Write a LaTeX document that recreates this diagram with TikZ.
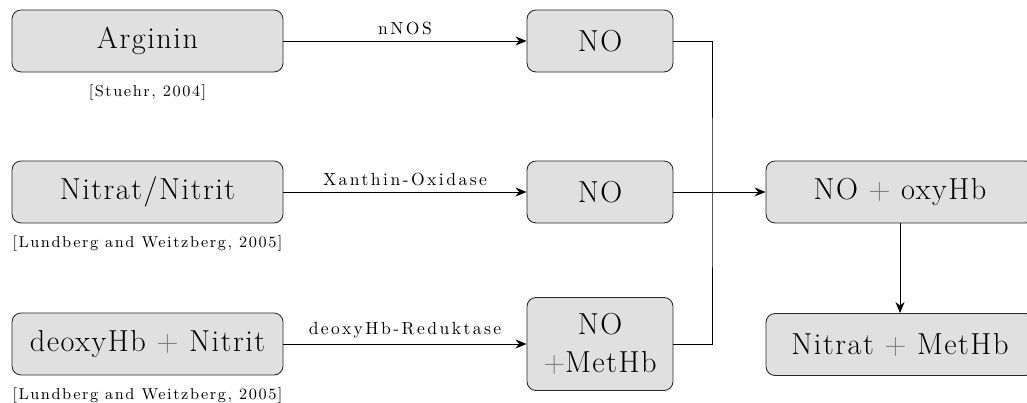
\documentclass[tikz,border=0pt]{standalone}
\usepackage{fontspec}
\setmainfont{Latin Modern Roman}
\usetikzlibrary{positioning, arrows.meta}

\newcommand{\gplus}{\textcolor{gray}{$+$}}

\begin{document}
\begin{tikzpicture}[
          box/.style={rectangle, rounded corners=1.8mm, draw=black!85, fill=black!12, font=\LARGE\addfontfeatures{LetterSpace=5}, minimum height=12.4mm},
          wide/.style={box, minimum width=54.2mm},
          small/.style={box, minimum width=29.2mm},
          cite/.style={font=\small\addfontfeatures{LetterSpace=10}},
          lbl/.style={midway, above, font=\normalsize\addfontfeatures{LetterSpace=14}},
          every path/.style={line width=0.5pt},
          >={Stealth[length=2.2mm, width=1.8mm]}
        ]

        \useasboundingbox (0,0) rectangle (20.54,-8.06);

        % left column
        \node[wide] (arg) at (2.95,-0.82) {Arginin};
        \node[wide] (nit) at (2.95,-3.84) {Nitrat/Nitrit};
        \node[wide] (deo) at (2.95,-6.88) {deoxyHb \gplus{} Nitrit};

        \node[cite, below=1.2mm of arg] {[Stuehr, 2004]};
        \node[cite, below=1.2mm of nit] {[Lundberg and Weitzberg, 2005]};
        \node[cite, below=1.2mm of deo] {[Lundberg and Weitzberg, 2005]};

        % middle column
        \node[small] (noA) at (12.0,-0.82) {NO};
        \node[small] (noB) at (12.0,-3.84) {NO};
        \node[small, minimum height=18.6mm, align=center] (noC) at (12.0,-6.88) {NO\\\gplus MetHb};

        % right column
        \node[wide, minimum width=53.6mm] (oxy) at (18.0,-3.84) {NO \gplus{} oxyHb};
        \node[wide, minimum width=53.6mm] (met) at (18.0,-6.89) {Nitrat \gplus{} MetHb};

        \coordinate (jn) at (14.24,-3.84);

        \draw[->] (arg) -- (noA) node[lbl] {nNOS};
        \draw[->] (nit) -- (noB) node[lbl] {Xanthin-Oxidase};
        \draw[->] (deo) -- (noC) node[lbl] {deoxyHb-Reduktase};

        \draw (noA.east) -| (jn) |- (noC.east);
        \draw[->] (noB.east) -- (oxy.west);
        \draw[->] (oxy) -- (met);

\end{tikzpicture}
\end{document}
